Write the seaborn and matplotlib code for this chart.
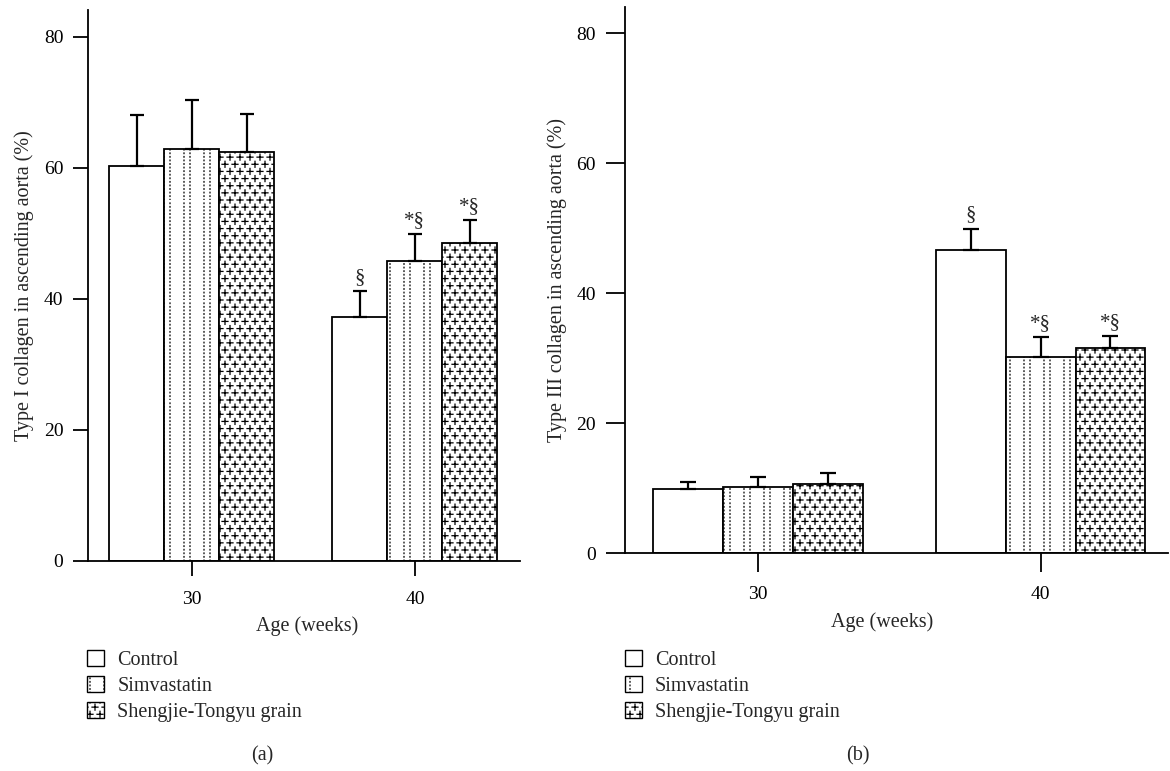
import numpy as np
import pandas as pd
import matplotlib
matplotlib.use('Agg')
import matplotlib.pyplot as plt
import matplotlib.hatch as mhatch
from matplotlib.path import Path
from matplotlib.patches import Patch
import seaborn as sns

ages = ['30', '40']
groups = ['Control', 'Simvastatin', 'Shengjie-Tongyu grain']

# (a) type I collagen, mean and upper SD per group at 30 / 40 weeks
col1_means = [[60.3, 37.3], [62.9, 45.8], [62.4, 48.5]]
col1_sds = [[7.8, 3.9], [7.5, 4.1], [5.8, 3.5]]
col1_marks = [['', '§'], ['', '*§'], ['', '*§']]

# (b) type III collagen
col3_means = [[9.9, 46.6], [10.1, 30.1], [10.6, 31.6]]
col3_sds = [[1.1, 3.3], [1.6, 3.1], [1.7, 1.8]]
col3_marks = [['', '§'], ['', '*§'], ['', '*§']]

yticks = [0, 20, 40, 60, 80]
hatches = ['', '.', '*']


# custom hatches: '*' -> staggered plus signs, '.' -> paired dotted columns
class PlusHatch(mhatch.HatchPatternBase):
    def __init__(self, hatch, density):
        n = hatch.count('*')
        self.cols, self.rows = 10 * n, 14 * n
        self.num_vertices = 4 * (self.rows + 1) * (self.cols + 1) if n else 0

    def set_vertices_and_codes(self, vertices, codes):
        pts = np.array([(c / self.cols + (0.5 / self.cols if r % 2 else 0), r / self.rows)
                        for r in range(self.rows + 1) for c in range(self.cols + 1)])
        a = 0.3 / self.cols
        seg = np.array([[-a, 0], [a, 0], [0, -a], [0, a]])
        vertices[:] = (pts[:, None, :] + seg[None]).reshape(-1, 2)
        codes[:] = np.tile([Path.MOVETO, Path.LINETO, Path.MOVETO, Path.LINETO], len(pts))


class DotColumnHatch(mhatch.HatchPatternBase):
    def __init__(self, hatch, density):
        n = hatch.count('.')
        self.xs = [k / 5 + d for k in range(5) for d in (0.04, 0.10)] if n else []
        self.ys = np.arange(28) / 28
        self.num_vertices = 2 * len(self.xs) * len(self.ys)

    def set_vertices_and_codes(self, vertices, codes):
        pts = np.array([(x, y) for x in self.xs for y in self.ys])
        seg = np.array([[0, 0], [0, 0.006]])
        vertices[:] = (pts[:, None, :] + seg[None]).reshape(-1, 2)
        codes[:] = np.tile([Path.MOVETO, Path.LINETO], len(pts))


mhatch._hatch_types = [t for t in mhatch._hatch_types
                       if t not in (mhatch.SmallFilledCircles, mhatch.Stars)] + [PlusHatch, DotColumnHatch]

sns.set_theme(style='ticks')
plt.rcParams['font.family'] = ['Liberation Serif', 'DejaVu Serif']
plt.rcParams.update({
    'axes.linewidth': 1.3, 'axes.edgecolor': 'black',
    'xtick.major.width': 1.3, 'ytick.major.width': 1.3,
    'xtick.color': 'black', 'ytick.color': 'black',
    'xtick.labelsize': 14, 'ytick.labelsize': 14,
    'axes.labelsize': 14.5, 'hatch.linewidth': 0.9, 'hatch.color': 'black',
})


def draw_panel(ax, means, sds, marks, ylabel, xlim, ytop, capsize, ticklen, xpad, xlab_xy):
    df = pd.DataFrame({
        'age': [a for g in groups for a in ages],
        'group': [g for g in groups for a in ages],
        'value': [v for m in means for v in m],
    })
    sns.barplot(data=df, x='age', y='value', hue='group', order=ages, hue_order=groups,
                palette=['white'] * 3, saturation=1, edgecolor='black', linewidth=1.3,
                width=0.74, gap=0, errorbar=None, legend=False, ax=ax)
    bar_conts = list(ax.containers)
    for gi, cont in enumerate(bar_conts):
        xs = []
        for bar in cont:
            bar.set_hatch(hatches[gi])
            xs.append(bar.get_x() + bar.get_width() / 2)
        tops = [bar.get_height() for bar in cont]
        ax.errorbar(xs, tops, yerr=[np.zeros(len(xs)), sds[gi]], fmt='none', ecolor='black',
                    elinewidth=1.6, capsize=capsize, capthick=1.6, zorder=3)
        for x, t, s, m in zip(xs, tops, sds[gi], marks[gi]):
            if m:
                ax.annotate(m, (x, t + s), xytext=(0, 3), textcoords='offset points',
                            ha='center', va='bottom', fontsize=15)
    ax.set_xlim(*xlim)
    ax.set_ylim(0, ytop)
    ax.set_yticks(yticks)
    ax.tick_params(axis='y', length=ticklen, pad=7)
    ax.tick_params(axis='x', length=ticklen, pad=xpad)
    ax.set_xlabel('Age (weeks)')
    ax.xaxis.set_label_coords(*xlab_xy)
    ax.set_ylabel(ylabel, labelpad=7)
    sns.despine(ax=ax)


fig = plt.figure(figsize=(11.7, 7.71), dpi=100)
ax1 = fig.add_axes([0.0752, 0.2724, 0.3692, 0.7146])
ax2 = fig.add_axes([0.5342, 0.2827, 0.4640, 0.7082])

draw_panel(ax1, col1_means, col1_sds, col1_marks, 'Type I collagen in ascending aorta (%)',
           (-0.466, 1.471), 84.1, 5, 10.8, 10.5, (0.507, -0.101))
draw_panel(ax2, col3_means, col3_sds, col3_marks, 'Type III collagen in ascending aorta (%)',
           (-0.47, 1.45), 84.0, 6, 14, 9.5, (0.473, -0.108))

handles = [Patch(facecolor='white', edgecolor='black', hatch=h, linewidth=1.0) for h in hatches]
for x0, tag, tx in [(0.0744, '(a)', 0.224), (0.534, '(b)', 0.733)]:
    fig.legend(handles, groups, loc='upper left', bbox_to_anchor=(x0, 0.157),
               bbox_transform=fig.transFigure, frameon=False, fontsize=14.5,
               handlelength=0.85, handleheight=0.85, handletextpad=0.65,
               labelspacing=0.3, borderpad=0, borderaxespad=0)
    fig.text(tx, 0.02, tag, ha='center', va='center', fontsize=14.5)

fig.savefig('out.png', dpi=100)
